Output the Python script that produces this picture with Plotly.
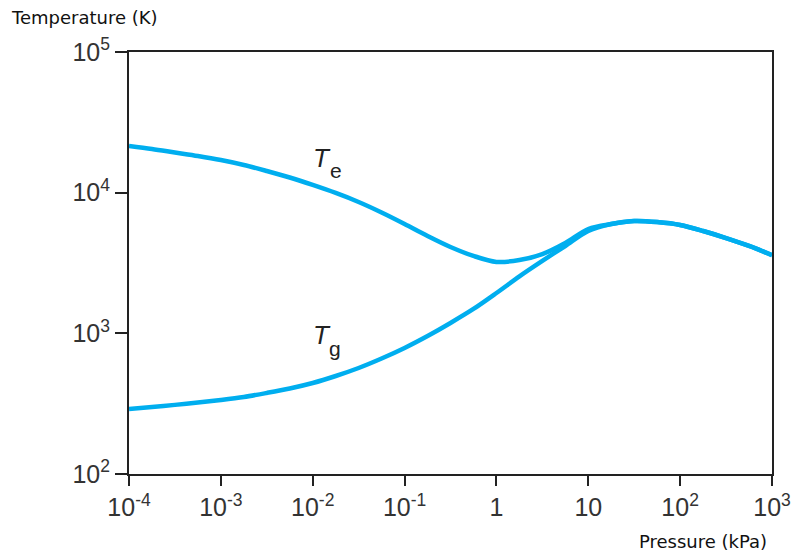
import plotly.graph_objects as go

# Data (pressure in kPa, temperature in K)
p_e = [1e-4, 1.78e-4, 3.16e-4, 5.62e-4, 1e-3, 1.78e-3, 3.16e-3, 5.62e-3,
       1e-2, 0.0178, 0.0316, 0.0562, 0.1, 0.178, 0.316, 0.562,
       1.0, 1.78, 3.16, 5.62, 10, 17.8, 31.6, 56.2, 100, 178, 316, 562, 1000]
t_e = [21480, 20440, 19300, 18230, 17070, 15740, 14260, 12820,
       11350, 9950, 8585, 7230, 5990, 4920, 4110, 3550,
       3220, 3320, 3660, 4390, 5517, 5990, 6290, 6180, 5890, 5340, 4760, 4180, 3600]

p_g = [1e-4, 1.78e-4, 3.16e-4, 5.62e-4, 1e-3, 1.78e-3, 3.16e-3, 5.62e-3,
       1e-2, 0.0178, 0.0316, 0.0562, 0.1, 0.178, 0.316, 0.562,
       1.0, 1.78, 3.16, 5.62, 10, 17.8, 31.6, 56.2, 100, 178, 316, 562, 1000]
t_g = [290, 299.5, 310, 322, 336, 353, 377, 405.5,
       443.6, 497.4, 567, 662, 787, 957, 1185, 1490,
       1935, 2540, 3270, 4177, 5340, 5990, 6290, 6180, 5890, 5340, 4760, 4180, 3600]

x_tickvals = [1e-4, 1e-3, 1e-2, 1e-1, 1, 10, 100, 1000]
x_ticktext = ["10<sup>-4</sup>", "10<sup>-3</sup>", "10<sup>-2</sup>", "10<sup>-1</sup>",
              "1", "10", "10<sup>2</sup>", "10<sup>3</sup>"]
y_tickvals = [1e2, 1e3, 1e4, 1e5]
y_ticktext = ["10<sup>2</sup>", "10<sup>3</sup>", "10<sup>4</sup>", "10<sup>5</sup>"]

LINE = "#00AEEF"
AX = "#222222"

fig = go.Figure()
fig.add_trace(go.Scatter(x=p_g, y=t_g, mode="lines",
                         line=dict(color=LINE, width=4.5, shape="spline", smoothing=0.9),
                         showlegend=False, hoverinfo="skip"))
fig.add_trace(go.Scatter(x=p_e, y=t_e, mode="lines",
                         line=dict(color=LINE, width=4.5, shape="spline", smoothing=0.9),
                         showlegend=False, hoverinfo="skip"))

W, H = 796, 552
L, R, T, B = 129, 24, 52, 78
pw, ph = W - L - R, H - T - B

def px(x):
    return (x - L) / pw

def py(y):
    return 1 - (y - T) / ph

tick_font = dict(family="Liberation Sans, Arial, sans-serif", size=25, color="#333333")
title_font = dict(family="DejaVu Sans, sans-serif", size=18, color="#111111")
lab_font = dict(family="Liberation Sans, Arial, sans-serif", size=26, color="#222222")
sub_font = dict(family="Liberation Sans, Arial, sans-serif", size=21, color="#222222")

annotations = [
    dict(text="Temperature (K)", x=px(9), y=py(17), xref="paper", yref="paper",
         xanchor="left", yanchor="middle", showarrow=False, font=title_font),
    dict(text="Pressure (kPa)", x=px(769), y=py(541), xref="paper", yref="paper",
         xanchor="right", yanchor="middle", showarrow=False, font=title_font),
    dict(text="<i>T</i>", x=px(322), y=py(158), xref="paper", yref="paper",
         xanchor="center", yanchor="middle", showarrow=False, font=lab_font),
    dict(text="e", x=px(336), y=py(170), xref="paper", yref="paper",
         xanchor="center", yanchor="middle", showarrow=False, font=sub_font),
    dict(text="<i>T</i>", x=px(322), y=py(335), xref="paper", yref="paper",
         xanchor="center", yanchor="middle", showarrow=False, font=lab_font),
    dict(text="g", x=px(335), y=py(348), xref="paper", yref="paper",
         xanchor="center", yanchor="middle", showarrow=False, font=sub_font),
]

fig.update_layout(
    width=W, height=H,
    margin=dict(l=L, r=R, t=T, b=B, pad=0, autoexpand=False),
    paper_bgcolor="white", plot_bgcolor="white",
    annotations=annotations,
    hovermode=False,
    xaxis=dict(type="log", range=[-4, 3], tickvals=x_tickvals, ticktext=x_ticktext,
               ticks="outside", ticklen=10, tickwidth=2, tickcolor=AX,
               showline=True, linewidth=2, linecolor=AX, mirror=True, automargin=False,
               showgrid=False, zeroline=False, tickfont=tick_font),
    yaxis=dict(type="log", range=[2, 5], tickvals=y_tickvals, ticktext=y_ticktext,
               ticks="outside", ticklen=12, tickwidth=2, tickcolor=AX,
               showline=True, linewidth=2, linecolor=AX, mirror=True, automargin=False,
               showgrid=False, zeroline=False, tickfont=tick_font),
)

fig.write_html("out.html", config={"displayModeBar": False},
               post_script="document.body.style.margin='0';document.body.style.overflow='hidden';")
